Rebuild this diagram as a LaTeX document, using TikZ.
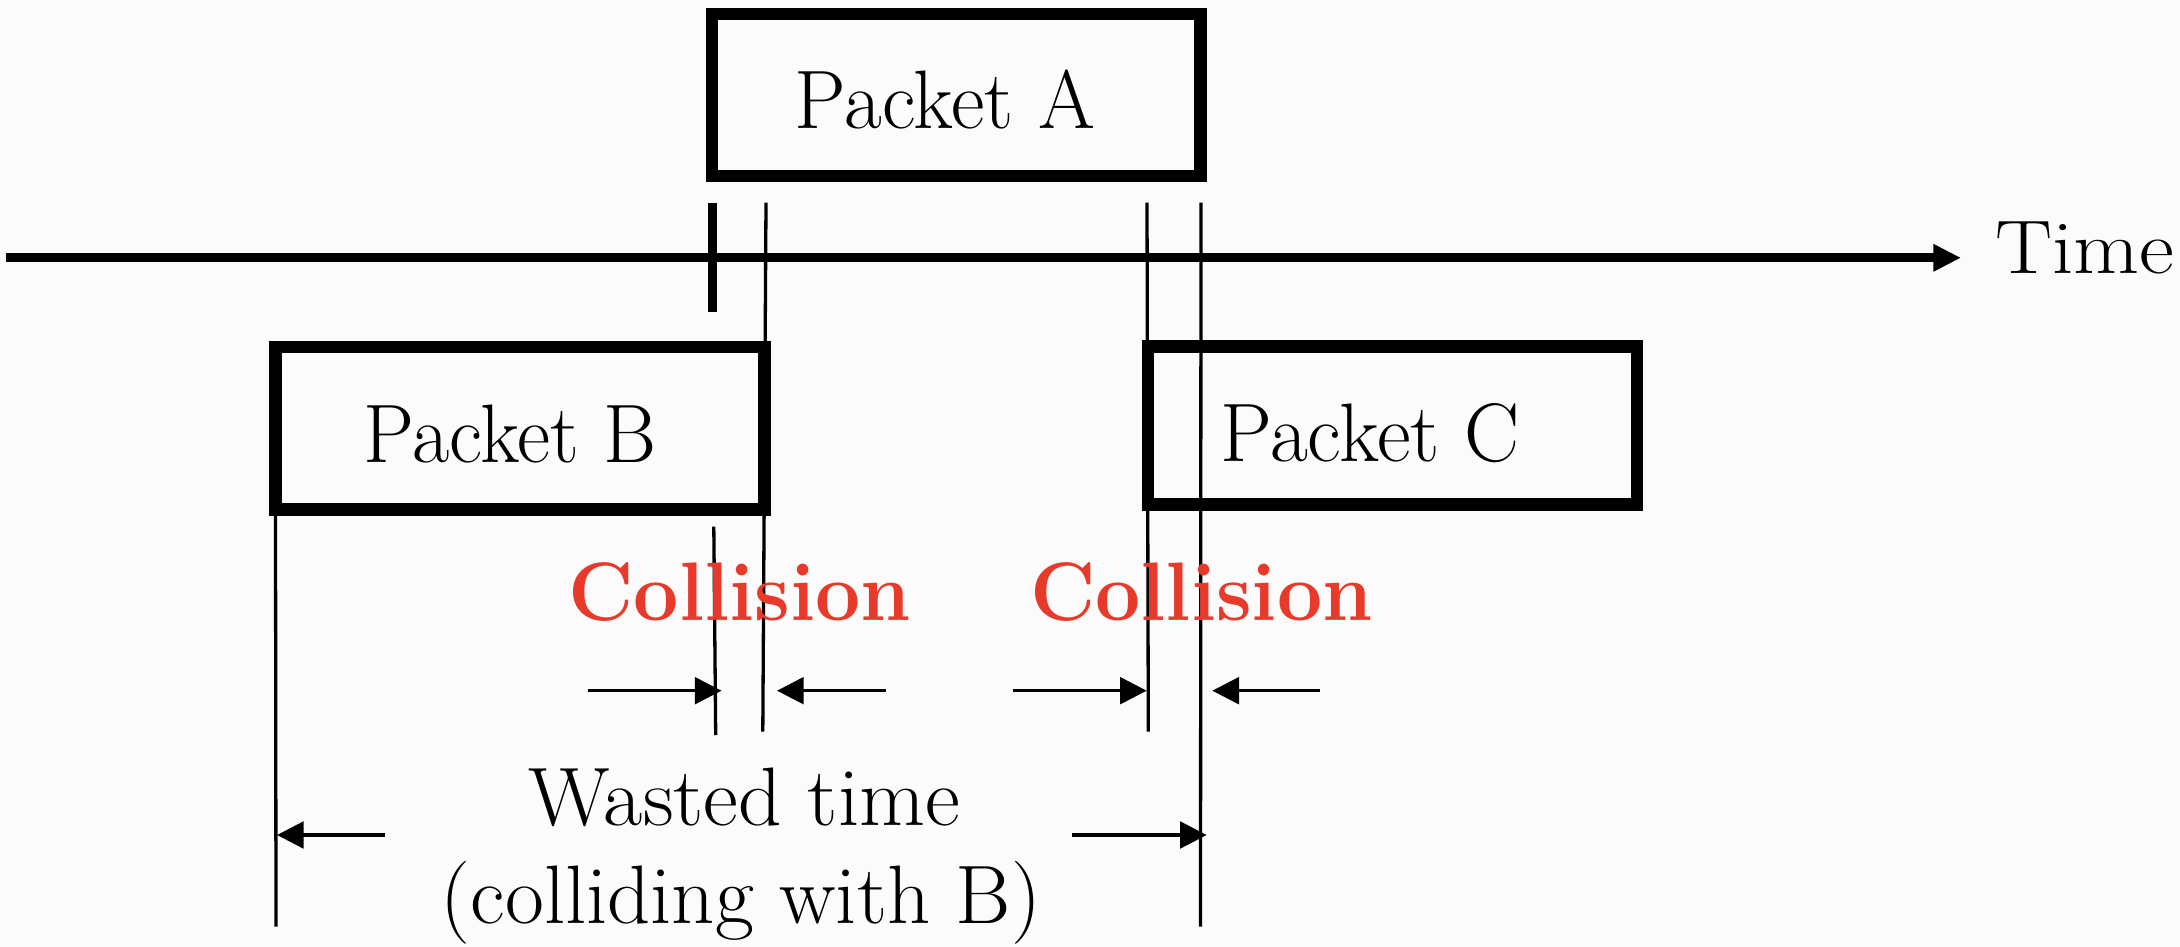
\documentclass[tikz,border=0pt]{standalone}
\usepackage{graphicx}
\usetikzlibrary{arrows.meta}
\definecolor{collred}{RGB}{232,58,43}
\definecolor{bgpaper}{RGB}{251,251,251}
\newcommand{\fitto}[2]{\resizebox{#1pt}{\height}{#2}}
\tikzset{
  pbox/.style={draw, line width=12.5pt, rectangle, inner sep=0pt, outer sep=0pt},
  lbl/.style={inner sep=0pt, outer sep=0pt, anchor=base, font=\fontsize{83}{90}\selectfont},
  clbl/.style={lbl, text=collred, font=\fontsize{83}{90}\selectfont\bfseries},
  thinline/.style={line width=3.3pt},
  tickline/.style={line width=9pt},
  dimarrow/.style={line width=3.3pt, -{Triangle[length=26.7pt,width=26.7pt]}},
  axisline/.style={line width=9pt, -{Triangle[length=27.6pt,width=25.7pt]}},
}
\begin{document}
\begin{tikzpicture}[x=1pt,y=-1pt]
\fill[bgpaper] (0,0) rectangle (2180,947);
\useasboundingbox (0,0) rectangle (2180,947);

% time axis
\coordinate (axL) at (6,257.8);
\coordinate (axR) at (1961,257.8);
\draw[axisline] (axL) -- (axR);
\node[lbl, font=\fontsize{76}{80}\selectfont] (time) at (2084.5,273.3) {\fitto{179}{Time}};

% tick
\coordinate (tkT) at (712.2,202.7);
\coordinate (tkB) at (712.2,311.7);
\draw[tickline] (tkT) -- (tkB);

% packets
\node[pbox, minimum width=488.5pt, minimum height=162pt] (boxA) at (956.25,95) {};
\node[pbox, minimum width=489pt, minimum height=162.7pt] (boxB) at (520,428.35) {};
\node[pbox, minimum width=489pt, minimum height=157.8pt] (boxC) at (1392.5,425.6) {};
\node[lbl] (lA) at (945,128.3) {\fitto{300}{Packet A}};
\node[lbl] (lB) at (510,462.7) {\fitto{293.4}{Packet B}};
\node[lbl] (lC) at (1370,461.7) {\fitto{299.5}{Packet C}};

% vertical marker lines
\coordinate (l1t) at (766,202.7);    \coordinate (l1b) at (762.8,731.7);
\coordinate (l2t) at (713.8,526.7);  \coordinate (l2b) at (715.7,735);
\coordinate (l3t) at (1147,202.7);   \coordinate (l3b) at (1148.3,731.7);
\coordinate (l4t) at (1201,202.7);   \coordinate (l4b) at (1200.5,926.7);
\coordinate (l5t) at (275.5,509.7);  \coordinate (l5b) at (276,926.7);
\draw[thinline] (l1t) -- (l1b);
\draw[thinline] (l2t) -- (l2b);
\draw[thinline] (l3t) -- (l3b);
\draw[thinline] (l4t) -- (l4b);
\draw[thinline] (l5t) -- (l5b);

% collision labels
\node[clbl] (c1) at (739.7,620) {\fitto{342.6}{Collision}};
\node[clbl] (c2) at (1201.3,620) {\fitto{342.6}{Collision}};

% collision arrows
\coordinate (a1s) at (587.5,690.7);  \coordinate (a1e) at (721.5,690.7);
\coordinate (a2s) at (886,690.7);    \coordinate (a2e) at (777,690.7);
\coordinate (a3s) at (1013.3,690.7); \coordinate (a3e) at (1146.7,690.7);
\coordinate (a4s) at (1320,690.7);   \coordinate (a4e) at (1212.3,690.7);
\draw[dimarrow] (a1s) -- (a1e);
\draw[dimarrow] (a2s) -- (a2e);
\draw[dimarrow] (a3s) -- (a3e);
\draw[dimarrow] (a4s) -- (a4e);

% wasted time
\node[lbl] (w1) at (744.5,825) {\fitto{431}{Wasted time}};
\node[lbl] (w2) at (741,923.3) {\fitto{600}{(colliding with B)}};
\coordinate (a5s) at (385,835);    \coordinate (a5e) at (277,835);
\coordinate (a6s) at (1071.7,835); \coordinate (a6e) at (1206.7,835);
\draw[dimarrow] (a5s) -- (a5e);
\draw[dimarrow] (a6s) -- (a6e);
\end{tikzpicture}
\end{document}
